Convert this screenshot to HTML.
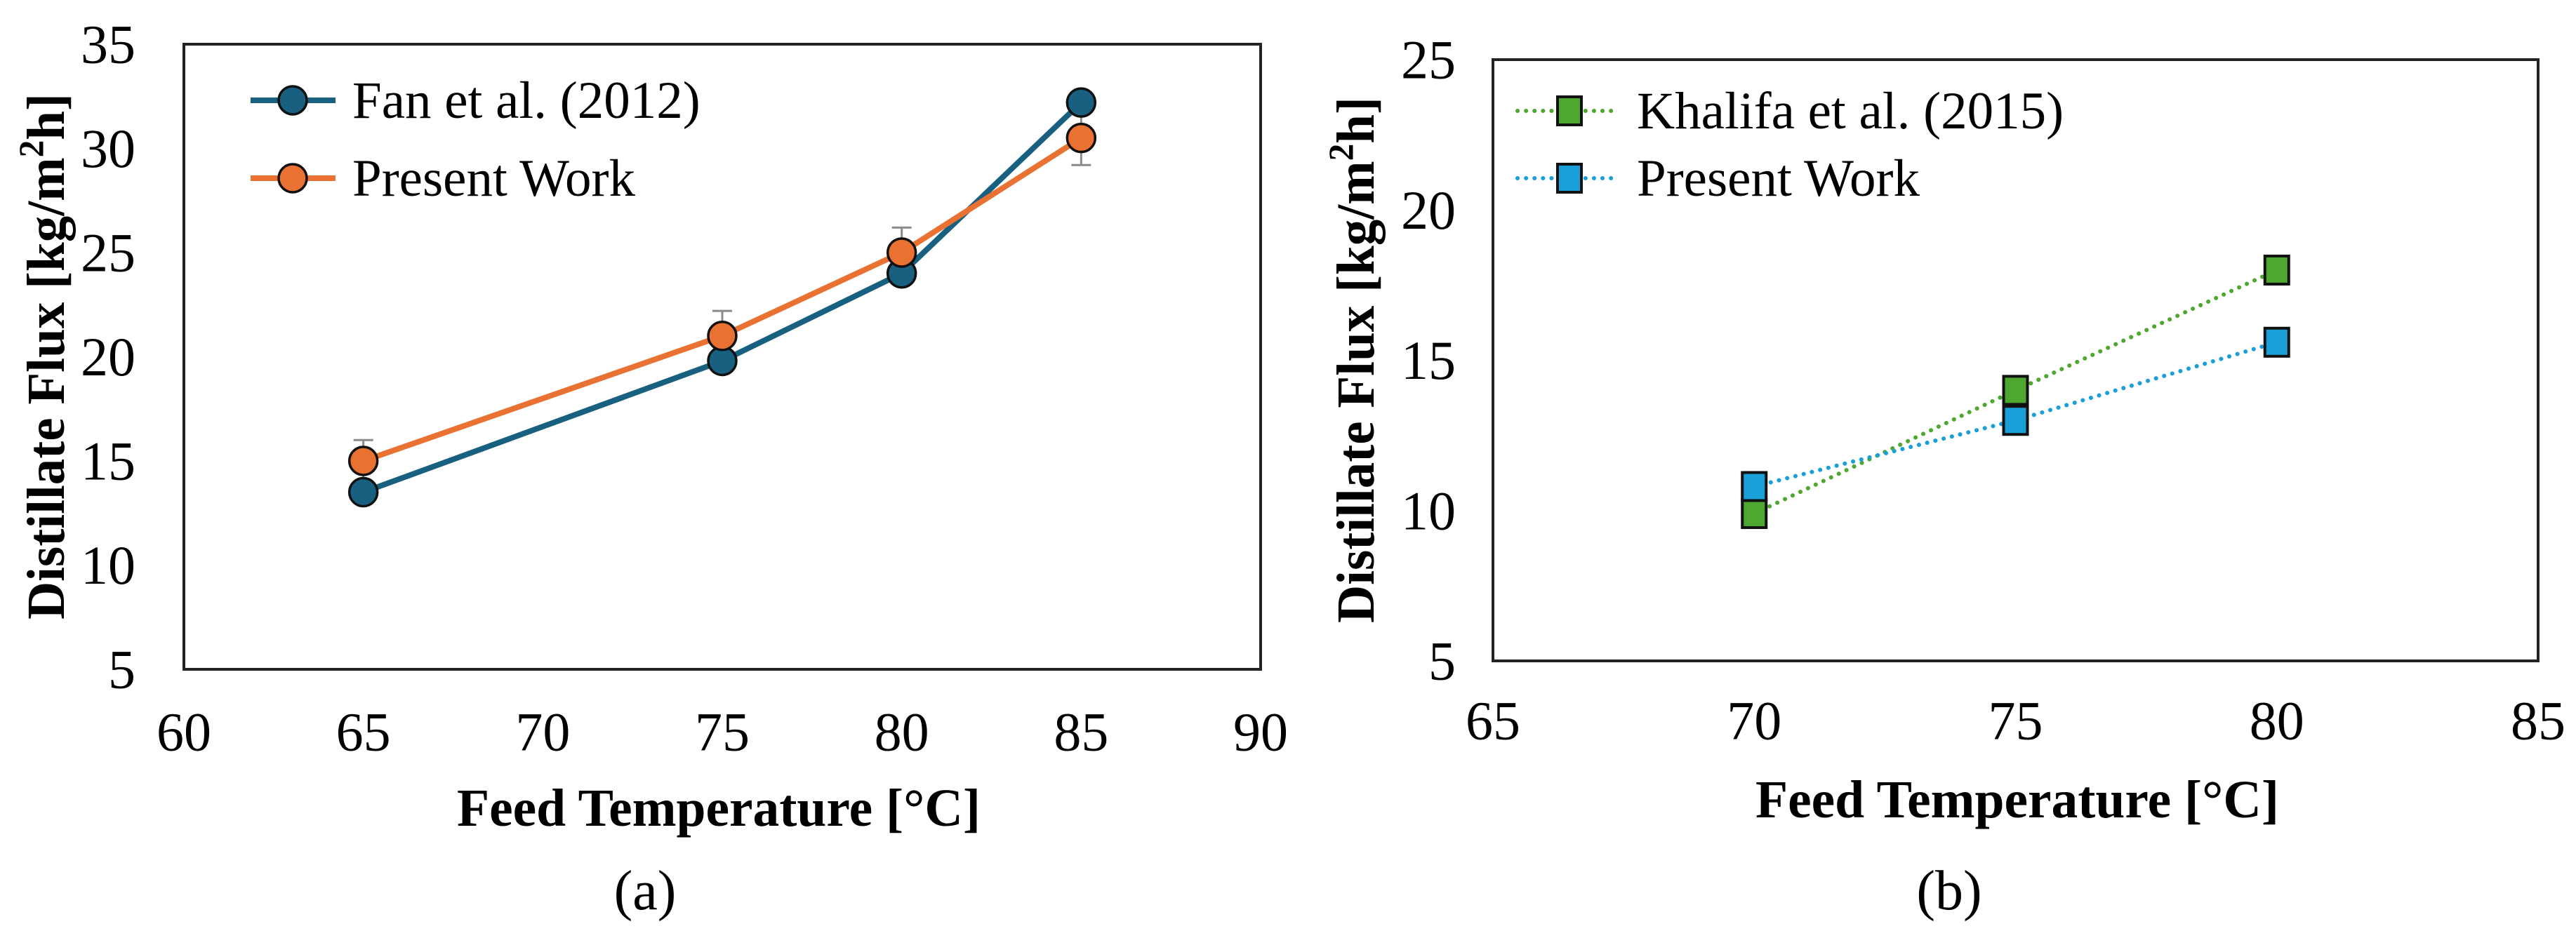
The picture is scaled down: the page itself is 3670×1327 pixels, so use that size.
<!DOCTYPE html>
<html><head><meta charset="utf-8"><style>
html,body{margin:0;padding:0;background:#fff;}
svg{display:block;}
text{font-family:"Liberation Serif",serif;fill:#000;}
</style></head><body>
<svg id="fig" width="3670" height="1327" viewBox="0 0 3670 1327" xmlns="http://www.w3.org/2000/svg"></svg>
<script>
// ---- Chart (a) data ----
const aTempsFan = [65, 75, 80, 85];
const aFluxFan = [13.5, 19.8, 24.0, 32.2];
const aTempsPresent = [65, 75, 80, 85];
const aFluxPresent = [15.0, 21.0, 25.0, 30.5];
const aErrPresent = [1.0, 1.2, 1.2, 1.3];
const aXTicks = [60, 65, 70, 75, 80, 85, 90];
const aYTicks = [5, 10, 15, 20, 25, 30, 35];
// ---- Chart (b) data ----
const bTempsKhalifa = [70, 75, 80];
const bFluxKhalifa = [9.9, 14.0, 18.0];
const bTempsPresent = [70, 75, 80];
const bFluxPresent = [10.8, 13.0, 15.6];
const bXTicks = [65, 70, 75, 80, 85];
const bYTicks = [5, 10, 15, 20, 25];

const NS = "http://www.w3.org/2000/svg";
const svg = document.getElementById('fig');
function mk(tag, attrs, parent){
  const e = document.createElementNS(NS, tag);
  for (const k in attrs) e.setAttribute(k, attrs[k]);
  (parent||svg).appendChild(e);
  return e;
}
function txt(s, attrs, parent){ const t = mk('text', attrs, parent); t.textContent = s; return t; }

function drawPanel(p){
  const g = mk('g', {});
  
  
  const sx = v => p.L + (v - p.xmin) / (p.xmax - p.xmin) * (p.R - p.L);
  const sy = v => p.B - (v - p.ymin) / (p.ymax - p.ymin) * (p.B - p.T);
  const frame = mk('rect', {x:p.L, y:p.T, width:p.R-p.L, height:p.B-p.T, fill:'none', stroke:'#222', 'stroke-width':4}, g);
  
  
  p.xticks.forEach(v => {
    const t = txt(String(v), {x:sx(v), y:p.xTickY, 'font-size':78, 'text-anchor':'middle', 'dominant-baseline':'central'}, g);
    
    
  });
  p.yticks.forEach(v => {
    const t = txt(String(v), {x:p.yTickX, y:sy(v), 'font-size':78, 'text-anchor':'end', 'dominant-baseline':'central'}, g);
    
    
  });
  const xt = txt('Feed Temperature [°C]', {x:p.xTitleX, y:p.xTitleY, 'font-size':76, 'font-weight':'bold', 'text-anchor':'middle', 'dominant-baseline':'central', textLength:746, lengthAdjust:'spacingAndGlyphs'}, g);
  
  
  const yt = mk('text', {x:0, y:0, 'font-size':76, 'font-weight':'bold', 'text-anchor':'middle', 'dominant-baseline':'central', transform:`translate(${p.yTitleX},${p.yTitleY}) rotate(-90)`, textLength:750, lengthAdjust:'spacingAndGlyphs'}, g);
  yt.textContent = 'Distillate Flux [kg/m';
  const sup = mk('tspan', {'font-size':50, dy:-22}, yt); sup.textContent = '2';
  const rest = mk('tspan', {dy:22}, yt); rest.textContent = 'h]';
  
  
  const cap = txt(p.caption, {x:p.capX, y:1270, 'font-size':80, 'text-anchor':'middle', 'dominant-baseline':'central'}, g);
  
  
  return {g, sx, sy};
}

// Panel (a)
const pa = drawPanel({name:'chart-a', L:262, R:1796, T:63, B:954, xmin:60, xmax:90, ymin:5, ymax:35,
  xticks:aXTicks, yticks:aYTicks, xTickY:1043, yTickX:193, xTitleX:1024, xTitleY:1152, yTitleX:66, yTitleY:508, caption:'(a)', capX:919});

// error bars
aTempsPresent.forEach((t,i) => {
  const x = pa.sx(t), y1 = pa.sy(aFluxPresent[i]-aErrPresent[i]), y2 = pa.sy(aFluxPresent[i]+aErrPresent[i]);
  const eg = mk('g', {stroke:'#8c8c8c', 'stroke-width':3}, pa.g);
  
  
  mk('line', {x1:x, y1:y1, x2:x, y2:y2}, eg);
  mk('line', {x1:x-14, y1:y1, x2:x+14, y2:y1}, eg);
  mk('line', {x1:x-14, y1:y2, x2:x+14, y2:y2}, eg);
});
function lineSeries(g, xs, ys, sx, sy, color, name, dash, w){
  const pts = xs.map((x,i) => `${sx(x)},${sy(ys[i])}`).join(' ');
  const l = mk('polyline', {points:pts, fill:'none', stroke:color, 'stroke-width':w, 'stroke-linejoin':'round', 'stroke-linecap':dash?'round':'butt', 'stroke-dasharray':dash||'none'}, g);
  
  
}
lineSeries(pa.g, aTempsFan, aFluxFan, pa.sx, pa.sy, '#17607f', 'fan-2012-line', null, 8);
lineSeries(pa.g, aTempsPresent, aFluxPresent, pa.sx, pa.sy, '#e97132', 'present-work-line', null, 8);
aTempsFan.forEach((t,i) => {
  const c = mk('circle', {cx:pa.sx(t), cy:pa.sy(aFluxFan[i]), r:20, fill:'#17607f', stroke:'#111', 'stroke-width':3.5}, pa.g);
  
  
});
aTempsPresent.forEach((t,i) => {
  const c = mk('circle', {cx:pa.sx(t), cy:pa.sy(aFluxPresent[i]), r:20, fill:'#e97132', stroke:'#111', 'stroke-width':3.5}, pa.g);
  
  
});
// legend a
const la = mk('g', {}, pa.g);


[['Fan et al. (2012)', '#17607f', 143], ['Present Work', '#e97132', 254]].forEach(([lab,col,y]) => {
  const e = mk('g', {}, la);
  
  
  mk('line', {x1:357, y1:y, x2:478, y2:y, stroke:col, 'stroke-width':8}, e);
  mk('circle', {cx:417, cy:y, r:20, fill:col, stroke:'#111', 'stroke-width':3.5}, e);
  txt(lab, {x:502, y:y+25, 'font-size':75}, e);
});

// Panel (b)
const pb = drawPanel({name:'chart-b', L:2127, R:3616, T:85, B:942, xmin:65, xmax:85, ymin:5, ymax:25,
  xticks:bXTicks, yticks:bYTicks, xTickY:1027, yTickX:2074, xTitleX:2874, xTitleY:1140, yTitleX:1932, yTitleY:513, caption:'(b)', capX:2777});
lineSeries(pb.g, bTempsKhalifa, bFluxKhalifa, pb.sx, pb.sy, '#4ea72e', 'khalifa-2015-line', '0.1 12', 6);
lineSeries(pb.g, bTempsPresent, bFluxPresent, pb.sx, pb.sy, '#1a9fd8', 'present-work-b-line', '0.1 12', 6);
function sq(g, x, y, col){ return mk('rect', {x:x-17, y:y-20, width:34, height:40, fill:col, stroke:'#111', 'stroke-width':4}, g); }
bTempsKhalifa.forEach((t,i) => {
  const r = sq(pb.g, pb.sx(t), pb.sy(bFluxKhalifa[i]), '#4ea72e');
  
  
});
bTempsPresent.forEach((t,i) => {
  const r = sq(pb.g, pb.sx(t), pb.sy(bFluxPresent[i]), '#1a9fd8');
  
  
});
const lb = mk('g', {}, pb.g);


[['Khalifa et al. (2015)', '#4ea72e', 158], ['Present Work', '#1a9fd8', 254]].forEach(([lab,col,y]) => {
  const e = mk('g', {}, lb);
  
  
  mk('line', {x1:2162, y1:y, x2:2306, y2:y, stroke:col, 'stroke-width':6, 'stroke-dasharray':'0.1 12', 'stroke-linecap':'round'}, e);
  sq(e, 2236, y, col);
  txt(lab, {x:2332, y:y+25, 'font-size':75}, e);
});
</script>
</body></html>
